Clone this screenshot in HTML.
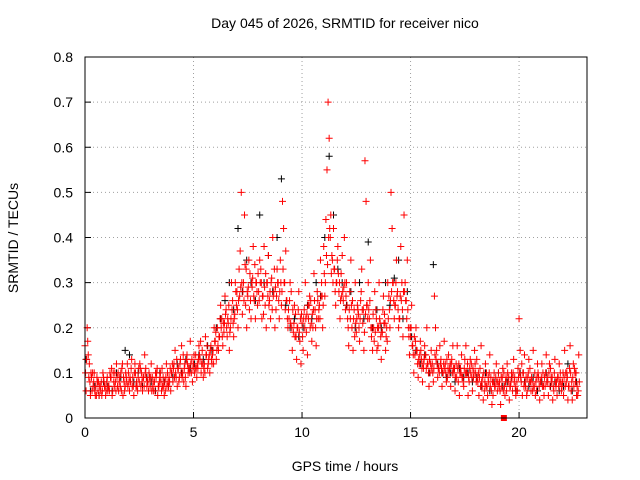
<!DOCTYPE html>
<html><head><meta charset="utf-8">
<style>
body{margin:0;background:#fff;}
svg{display:block;font-family:"Liberation Sans",sans-serif;}
</style></head>
<body>
<svg id="chart" width="640" height="480">
<text x="345" y="28" font-size="14" text-anchor="middle">Day 045 of 2026, SRMTID for receiver nico</text>
<text x="345" y="471" font-size="14" text-anchor="middle">GPS time / hours</text>
<text transform="translate(18,238) rotate(-90)" font-size="14" text-anchor="middle">SRMTID / TECUs</text>
<g id="grid"></g>
<g id="ticks"></g>
<g id="marks"></g>
<rect x="85" y="57" width="502" height="361" fill="none" stroke="#000" stroke-width="1"/>
</svg>
<script>
const xTicks=[0,5,10,15,20];
const yTicks=[0,0.1,0.2,0.3,0.4,0.5,0.6,0.7,0.8];
const yTickLabels=["0","0.1","0.2","0.3","0.4","0.5","0.6","0.7","0.8"];
const redStep=0.1, blackStep=0.2;
const redA=[.16,.2,.12,.09,.08,.07,.06,.07,.06,.07,
.08,.07,.09,.1,.08,.07,.09,.11,.08,.09,
.1,.08,.09,.12,.07,.08,.1,.09,.11,.08,
.07,.09,.08,.1,.07,.08,.09,.06,.1,.08,
.1,.12,.09,.11,.13,.1,.12,.14,.11,.1,
.12,.14,.11,.13,.15,.12,.14,.13,.16,.15,
.17,.2,.18,.22,.19,.24,.21,.2,.26,.23,
.28,.33,.5,.3,.25,.27,.32,.29,.26,.3,
.28,.33,.27,.25,.3,.26,.31,.28,.24,.3,
.35,.48,.3,.26,.22,.28,.19,.23,.2,.17,
.21,.24,.19,.22,.26,.2,.24,.28,.25,.3,
.38,.44,.7,.4,.35,.33,.3,.28,.32,.26,
.24,.22,.28,.2,.24,.19,.23,.26,.21,.57,
.25,.22,.18,.2,.24,.16,.21,.19,.23,.2,
.27,.5,.3,.25,.28,.22,.3,.45,.26,.2,
.18,.16,.14,.15,.12,.13,.11,.14,.12,.1,
.12,.27,.15,.11,.13,.1,.12,.09,.11,.13,
.1,.12,.08,.11,.09,.13,.1,.08,.12,.09,
.1,.08,.11,.07,.06,.1,.08,.09,.05,.07,
.06,.08,.07,.1,.09,.08,.07,.06,.09,.08,
.22,.08,.1,.07,.09,.11,.08,.07,.06,.09,
.08,.1,.07,.09,.12,.08,.06,.07,.09,.1,
.08,.15,.1,.07,.06,.12,.08,.05];
const redB=[.06,.14,.05,.1,.06,.09,.05,.08,.09,.05,
.06,.1,.05,.07,.12,.06,.1,.05,.07,.12,
.06,.13,.05,.07,.09,.11,.06,.14,.07,.1,
.12,.06,.1,.05,.09,.11,.05,.12,.07,.06,
.08,.15,.07,.09,.16,.08,.07,.1,.17,.08,
.1,.09,.16,.1,.09,.18,.11,.1,.12,.2,
.13,.15,.25,.16,.27,.18,.15,.3,.18,.28,
.2,.37,.23,.45,.2,.35,.22,.38,.22,.25,
.35,.22,.38,.2,.36,.22,.4,.2,.33,.22,
.25,.42,.37,.2,.3,.15,.25,.13,.28,.12,
.15,.3,.14,.27,.17,.32,.16,.22,.35,.2,
.27,.55,.62,.32,.42,.25,.38,.22,.36,.4,
.3,.16,.35,.15,.3,.25,.17,.33,.15,.48,
.3,.35,.15,.28,.15,.3,.13,.27,.15,.3,
.2,.42,.22,.35,.2,.38,.18,.3,.35,.14,
.25,.1,.2,.09,.17,.08,.16,.2,.07,.15,
.08,.2,.09,.16,.07,.17,.08,.14,.07,.16,
.06,.16,.05,.14,.07,.16,.05,.13,.06,.15,
.13,.05,.16,.04,.12,.05,.14,.03,.1,.12,
.1,.03,.11,.05,.12,.04,.1,.13,.05,.11,
.15,.05,.14,.05,.13,.06,.15,.05,.12,.04,
.12,.05,.14,.05,.11,.04,.13,.05,.12,.06,
.05,.1,.04,.16,.04,.11,.05,.14];
const redC=[.1,.17,.08,.06,.1,.05,.08,.06,.1,.07,
.09,.06,.11,.08,.06,.1,.07,.12,.06,.08,
.08,.11,.07,.1,.06,.12,.08,.07,.09,.06,
.09,.07,.06,.11,.08,.06,.07,.09,.08,.11,
.12,.09,.13,.08,.1,.14,.09,.12,.1,.13,
.14,.11,.13,.17,.12,.1,.16,.14,.13,.12,
.19,.16,.22,.18,.21,.2,.25,.22,.21,.3,
.24,.27,.3,.26,.33,.29,.26,.31,.34,.28,
.26,.3,.23,.32,.27,.28,.24,.33,.27,.26,
.3,.33,.24,.22,.26,.2,.21,.18,.24,.22,
.18,.2,.23,.25,.21,.24,.2,.26,.22,.27,
.32,.36,.4,.45,.3,.28,.35,.3,.27,.29,
.27,.2,.22,.26,.18,.22,.2,.28,.24,.23,
.22,.26,.2,.17,.22,.2,.18,.24,.21,.17,
.24,.28,.26,.3,.24,.27,.24,.28,.22,.18,
.2,.14,.17,.12,.14,.11,.13,.11,.1,.12,
.1,.14,.12,.1,.11,.12,.1,.11,.12,.1,
.11,.09,.12,.1,.08,.1,.12,.11,.09,.1,
.08,.1,.07,.09,.08,.07,.1,.06,.08,.09,
.08,.06,.09,.07,.06,.09,.08,.1,.07,.06,
.1,.12,.07,.09,.1,.08,.06,.1,.09,.07,
.09,.07,.1,.08,.07,.09,.1,.08,.07,.08,
.1,.07,.09,.11,.08,.07,.1,.06];
const redD=[.13,.09,.1,.07,.05,.08,.07,.05,.08,.06,
.07,.09,.06,.1,.09,.08,.06,.09,.1,.07,
.09,.07,.1,.08,.11,.07,.09,.1,.08,.09,
.06,.08,.09,.07,.1,.07,.08,.07,.09,.1,
.11,.1,.11,.12,.09,.11,.13,.11,.12,.11,
.11,.12,.14,.12,.11,.14,.12,.15,.14,.17,
.15,.18,.2,.21,.23,.22,.19,.24,.22,.25,
.26,.29,.28,.34,.28,.24,.3,.27,.3,.32,
.3,.27,.29,.3,.25,.3,.27,.29,.3,.28,
.28,.3,.26,.24,.21,.24,.18,.2,.19,.23,
.22,.22,.25,.2,.23,.26,.22,.24,.27,.25,
.3,.34,.42,.36,.33,.3,.32,.26,.28,.3,
.25,.24,.25,.22,.21,.24,.22,.24,.19,.25,
.24,.2,.23,.19,.2,.22,.19,.21,.18,.22,
.26,.3,.25,.27,.22,.26,.28,.26,.24,.2,
.16,.18,.15,.13,.15,.12,.14,.12,.13,.11,
.11,.13,.11,.12,.1,.11,.13,.1,.12,.11,
.09,.11,.1,.09,.11,.1,.09,.1,.11,.12,
.09,.09,.08,.1,.07,.09,.07,.08,.07,.08,
.07,.09,.06,.08,.1,.07,.09,.08,.06,.09,
.09,.1,.08,.06,.08,.09,.07,.08,.1,.08,
.07,.09,.08,.1,.09,.07,.08,.09,.08,.07,
.09,.08,.07,.1,.09,.1,.07,.08];
const blackC=[.13,.06,.07,.05,.08,.07,.06,.1,.09,.15,
.14,.08,.1,.07,.09,.08,.06,.1,.08,.07,
.09,.12,.1,.13,.11,.12,.14,.13,.16,.15,
.2,.22,.26,.3,.24,.42,.28,.35,.3,.26,
.45,.3,.36,.28,.4,.53,.25,.2,.22,.18,
.2,.25,.22,.3,.27,.4,.58,.45,.33,.3,
.25,.28,.2,.3,.22,.39,.2,.24,.2,.3,
.25,.31,.35,.22,.28,.18,.15,.12,.14,.1,
.34,.12,.1,.09,.1,.08,.11,.09,.1,.08,
.09,.07,.1,.06,.08,.1,.07,.08,.09,.06,
.1,.08,.07,.09,.06,.08,.1,.07,.08,.06,
.07,.12,.06,.08];
const outlierTimes=[19.3], outlierValues=[0];

const X0=85,X1=587,Y0=418,Y1=57,XMAX=23.13,YMAX=0.8;
const xs=v=>X0+(X1-X0)*v/XMAX;
const ys=v=>Y0-(Y0-Y1)*v/YMAX;
const NS="http://www.w3.org/2000/svg";
const grid=document.getElementById('grid'),ticks=document.getElementById('ticks'),marks=document.getElementById('marks');
function mk(tag,attrs,parent){const e=document.createElementNS(NS,tag);for(const k in attrs)e.setAttribute(k,attrs[k]);parent.appendChild(e);return e;}
xTicks.forEach(t=>{
  const x=xs(t);
  if(t>0){const g=mk('line',{x1:x,x2:x,y1:Y0,y2:Y1,stroke:'#a0a0a0','stroke-dasharray':'1,3'},grid);
  
  }
  const l=mk('line',{x1:x,x2:x,y1:Y0,y2:Y0-6,stroke:'#000'},ticks);
  
  
  const tx=mk('text',{x:x,y:Y0+19,'font-size':14,'text-anchor':'middle'},ticks);tx.textContent=t;
  
  
});
yTicks.forEach((t,i)=>{
  const y=ys(t);
  if(i>0&&i<yTicks.length-1){const g=mk('line',{x1:X0,x2:X1,y1:y,y2:y,stroke:'#a0a0a0','stroke-dasharray':'1,3'},grid);
  
  }
  const l=mk('line',{x1:X0,x2:X0+6,y1:y,y2:y,stroke:'#000'},ticks);
  
  
  const tx=mk('text',{x:X0-12,y:y+5,'font-size':14,'text-anchor':'end'},ticks);tx.textContent=yTickLabels[i];
  
  
});
function plus(vals,step,color,name,off){
  let d='';
  vals.forEach((v,i)=>{const x=xs(i*step+off),y=ys(v);d+=`M${x-3.5},${y}h7M${x},${y-3.5}v7`;});
  const p=mk('path',{d:d,stroke:color,'stroke-width':1,fill:'none'},marks);
  
  
}
plus(blackC,blackStep,'#000','series-black',0.05);
plus(redA,redStep,'#ff0000','series-red-a',0);
plus(redB,redStep,'#ff0000','series-red-b',0.05);
plus(redC,redStep,'#ff0000','series-red-c',0.025);
plus(redD,redStep,'#ff0000','series-red-d',0.075);
outlierTimes.forEach((t,i)=>{
  const r=mk('rect',{x:xs(t)-3,y:ys(outlierValues[i])-3,width:6,height:6,fill:'#ff0000'},marks);
  
  
});
</script>
</body></html>
